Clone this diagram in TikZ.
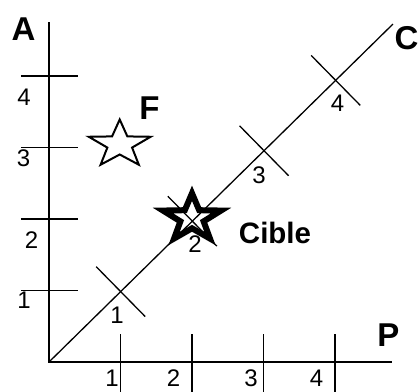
\documentclass[tikz,border=0pt]{standalone}
\usepackage{fontspec}
\setmainfont{Liberation Sans}
\usetikzlibrary{calc, positioning}
\usetikzlibrary{shapes.geometric}

\tikzset{
  axisline/.style={line width=1.8pt},
  tickline/.style={line width=1.3pt},
  bigletter/.style={font=\fontsize{33}{36}\selectfont\bfseries, inner sep=0pt},
  ticknum/.style={font=\fontsize{24}{28}\selectfont, inner sep=0pt},
  starmark/.style={star, star points=5, star point ratio=2.5, draw,
    inner sep=0pt, line join=miter},
}

\begin{document}
\begin{tikzpicture}[x=71.5pt,y=71.5pt]
\path[use as bounding box] (-0.6853,-0.4056) rectangle (5.1748,5.0629);
\clip (-0.6853,-0.4056) rectangle (5.1748,5.0629);

\coordinate (O) at (0,0);
\coordinate (Atop) at (0,4.755);
\coordinate (Pend) at (4.797,0);
\coordinate (Cend) at (4.811,4.727);

\draw[axisline] (Atop) -- (O) -- (Pend);
\draw[tickline] (O) -- (Cend);

% graduations on the three axes
\foreach \k in {1,2,3,4}{
  \coordinate (Ta\k) at (0,\k);
  \coordinate (Tp\k) at (\k,0);
  \coordinate (Tc\k) at ($(O)!{\k/4.8}!(Cend)$);
  \draw[tickline] ($(Ta\k)+(-28pt,0)$) -- ($(Ta\k)+(29pt,0)$);
  \draw[tickline] ($(Tp\k)+(0,28pt)$) -- ($(Tp\k)+(0,-30pt)$);
  \draw[tickline] ($(Tc\k)!35pt!90:(Cend)$) -- ($(Tc\k)!35pt!-90:(Cend)$);
}

\foreach \k/\x/\y in {1/-0.35/0.867, 2/-0.245/1.706, 3/-0.357/2.853, 4/-0.35/3.70}
  {\node[ticknum] (na\k) at (\x,\y) {\k};}
\foreach \k/\x/\y in {1/0.951/0.650, 2/2.042/1.650, 3/2.937/2.615, 4/4.035/3.615}
  {\node[ticknum] (nc\k) at (\x,\y) {\k};}
\foreach \k/\x in {1/0.881, 2/1.741, 3/2.825, 4/3.741}
  {\node[ticknum] (np\k) at (\x,-0.232) {\k};}

% stars
\node[starmark, line width=2pt, minimum size=50pt, xscale=1.3] (F) at (0.989,3.042) {};
\node[starmark, line width=6pt, minimum size=50pt, xscale=1.22] (Cible) at (2,2.01) {};

\node[bigletter] (labA) at (-0.357,4.657) {A};
\node[bigletter] (labC) at (5.0,4.531) {C};
\node[bigletter] (labP) at (4.748,0.371) {P};
\node[bigletter] (labF) at (1.406,3.545) {F};
\node[font=\fontsize{29.5}{32}\selectfont\bfseries, inner sep=0pt] (labCible)
  at (3.161,1.804) {Cible};
\end{tikzpicture}
\end{document}
